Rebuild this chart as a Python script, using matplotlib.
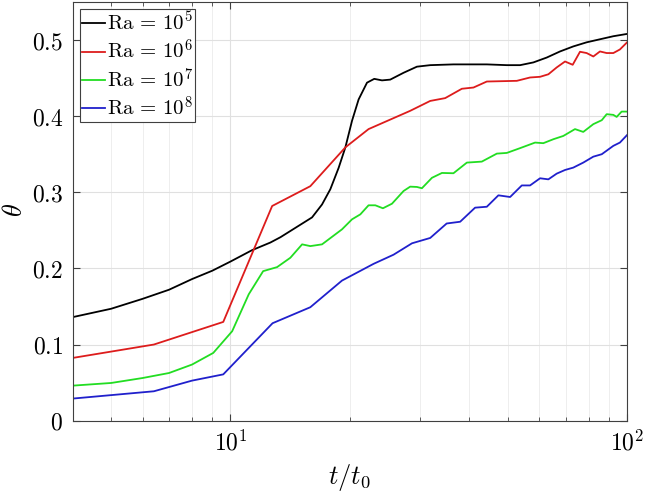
import matplotlib
matplotlib.use("Agg")
import matplotlib.pyplot as plt
from matplotlib.ticker import FixedLocator, NullFormatter

plt.rcParams['font.family'] = 'serif'
plt.rcParams['font.serif'] = ['DejaVu Serif']
plt.rcParams['mathtext.fontset'] = 'cm'

# Ra = 1e5
t_a = [4.0, 5.0, 6.0, 7.0, 8.0, 9.0, 10.0, 11.34, 12.61, 13.37, 16.06, 17.02, 17.86,
       18.74, 19.49, 20.26, 21.05, 22.10, 23.05, 24.11, 25.29, 27.33, 29.53, 31.90,
       36.51, 44.32, 49.77, 53.77, 58.08, 62.77, 67.80, 73.22, 79.14, 85.5, 92.4, 100]
th_a = [0.136, 0.147, 0.160, 0.172, 0.186, 0.197, 0.209, 0.224, 0.234, 0.241, 0.267,
        0.284, 0.304, 0.332, 0.359, 0.394, 0.422, 0.444, 0.449, 0.447, 0.448, 0.457,
        0.465, 0.467, 0.468, 0.468, 0.467, 0.467, 0.4706, 0.477, 0.485, 0.4916,
        0.497, 0.501, 0.505, 0.508]

# Ra = 1e6
t_b = [4.0, 6.41, 9.59, 12.74, 15.9, 19.49, 22.3, 28.4, 31.9, 34.8, 38.34, 41.01,
       44.32, 52.75, 56.97, 60.38, 63.36, 66.5, 69.8, 72.98, 76.14, 79.14, 82.26,
       85.5, 88.9, 92.4, 96.0, 100]
th_b = [0.0824, 0.100, 0.1297, 0.282, 0.308, 0.359, 0.383, 0.407, 0.420, 0.4237,
        0.436, 0.4376, 0.4455, 0.4464, 0.4508, 0.4517, 0.455, 0.464, 0.4718, 0.4675,
        0.4846, 0.4829, 0.4784, 0.485, 0.4829, 0.4829, 0.4876, 0.4968]

# Ra = 1e7
t_c = [4.0, 5.0, 6.0, 7.0, 8.0, 9.05, 10.1, 11.12, 12.09, 13.11, 14.16, 15.16, 15.9,
       17.02, 19.11, 20.26, 21.26, 22.3, 23.19, 24.24, 25.55, 27.33, 28.4, 29.53,
       30.4, 32.22, 34.15, 36.51, 39.47, 43.05, 46.97, 49.77, 53.77, 58.65, 61.53,
       65.23, 69.1, 73.96, 77.6, 82.26, 86.4, 88.9, 92.4, 94.2, 96.97, 100]
th_c = [0.046, 0.0495, 0.056, 0.0626, 0.0737, 0.089, 0.1175, 0.166, 0.1964, 0.2017,
        0.214, 0.2316, 0.2293, 0.2316, 0.2513, 0.2645, 0.271, 0.2829, 0.2829, 0.279,
        0.285, 0.3017, 0.3074, 0.307, 0.3053, 0.319, 0.3254, 0.325, 0.339, 0.3403,
        0.3508, 0.3517, 0.358, 0.3653, 0.3645, 0.3697, 0.374, 0.383, 0.3793, 0.3895,
        0.3947, 0.4026, 0.4017, 0.399, 0.406, 0.406]

# Ra = 1e8
t_d = [4.0, 6.41, 8.0, 9.59, 12.77, 15.9, 19.11, 22.96, 25.78, 28.7, 31.9, 35.1,
       37.96, 41.4, 44.32, 47.4, 50.74, 54.3, 56.97, 60.38, 63.36, 66.5, 69.8, 73.22,
       77.6, 82.26, 86.4, 92.4, 96.0, 100]
th_d = [0.029, 0.0386, 0.0526, 0.0608, 0.128, 0.149, 0.184, 0.206, 0.218, 0.233,
        0.240, 0.259, 0.2613, 0.2798, 0.281, 0.296, 0.2938, 0.309, 0.309, 0.3184,
        0.317, 0.3245, 0.3293, 0.3324, 0.339, 0.3468, 0.35, 0.361, 0.3653, 0.375]

labels = [r'$\mathrm{Ra}\,=\,10^5$', r'$\mathrm{Ra}\,=\,10^6$',
          r'$\mathrm{Ra}\,=\,10^7$', r'$\mathrm{Ra}\,=\,10^8$']
colors = ['#000000', '#dd1c1c', '#22dd22', '#2020cc']

fig = plt.figure(figsize=(6.45, 4.92), dpi=100)
ax = fig.add_axes([0.1127, 0.145, 0.8593, 0.851])

for t, th, lab, c in zip([t_a, t_b, t_c, t_d], [th_a, th_b, th_c, th_d], labels, colors):
    ax.plot(t, th, color=c, lw=1.3, label=lab)

ax.set_xscale('log')
ax.set_xlim(4, 100)
ax.set_ylim(0, 0.55)

ax.xaxis.set_major_locator(FixedLocator([10, 100]))
ax.set_xticklabels([r'$10^1$', r'$10^2$'])
ax.xaxis.set_minor_locator(FixedLocator([5, 6, 7, 8, 9, 20, 30, 40, 50, 60, 70, 80, 90]))
ax.xaxis.set_minor_formatter(NullFormatter())
yt = [0, 0.1, 0.2, 0.3, 0.4, 0.5]
ax.set_yticks(yt)
ax.set_yticklabels(['$0$', '$0.1$', '$0.2$', '$0.3$', '$0.4$', '$0.5$'])

ax.tick_params(which='both', direction='in', top=True, right=True,
               colors='#404040', labelcolor='black', labelsize=17)
ax.tick_params(which='major', length=5, width=0.8)
ax.tick_params(which='minor', length=3, width=0.6)
ax.tick_params(axis='x', pad=7)
ax.tick_params(axis='y', pad=7)

ax.grid(True, which='major', color='#e0e0e0', lw=0.8)
ax.grid(True, which='minor', axis='x', color='#ebebeb', lw=0.6)
ax.set_axisbelow(True)
for s in ax.spines.values():
    s.set_color('#404040')
    s.set_linewidth(0.8)

ax.set_xlabel(r'$t/t_0$', fontsize=19, labelpad=5)
# y label placed by hand so the bar stays inside the figure
fig.text(14 / 645, 1 - 210 / 492, r'$\bar{\theta}$', fontsize=19, rotation=90,
         ha='center', va='center')

leg = ax.legend(loc='upper left', fontsize=15, handlelength=1.1, handletextpad=0.1,
                borderpad=0.1, labelspacing=0.2, borderaxespad=0.35, fancybox=False,
                framealpha=1)
leg.get_frame().set_edgecolor('#404040')
leg.get_frame().set_linewidth(0.8)

fig.savefig('out.png', dpi=100)
